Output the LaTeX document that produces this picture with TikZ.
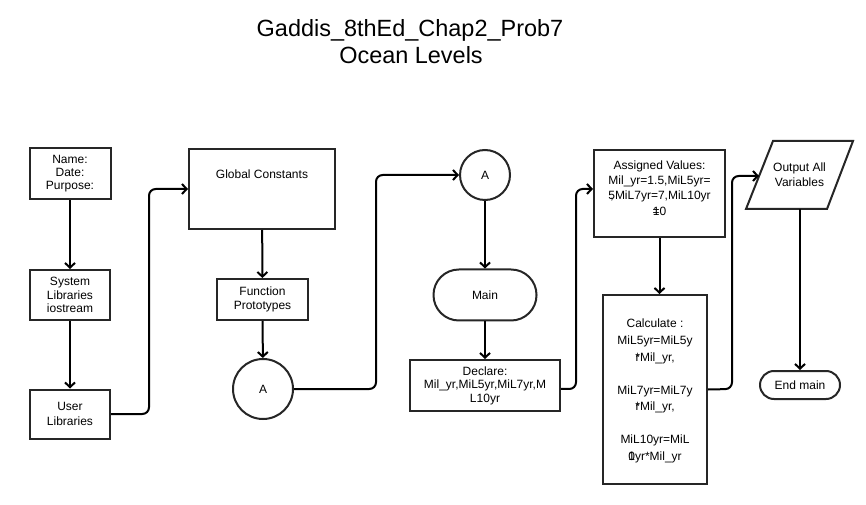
\documentclass[tikz,border=0pt]{standalone}
\usepackage{fontspec}
\setmainfont{Liberation Sans}
\usetikzlibrary{arrows.meta}
\begin{document}
\begin{tikzpicture}[x=0.75pt,y=-0.75pt,
  every node/.style={font=\fontsize{9}{11}\selectfont, align=center, inner sep=0pt},
  box/.style={draw=black!85, line width=1.5pt, fill=white},
  term/.style={box, rounded corners=#1},
  conn/.style={line width=1.5pt, rounded corners=5pt,
    -{Straight Barb[length=3.5pt,width=7.5pt,line width=1.5pt]}}]
\useasboundingbox (0,0) rectangle (866,505);

% title
\node[font=\fontsize{17.6}{20}\selectfont, anchor=base] (title1) at (410,37) {Gaddis\_8thEd\_Chap2\_Prob7};
\node[font=\fontsize{17.6}{20}\selectfont, anchor=base] (title2) at (411,64) {Ocean Levels};

% left column
\node[box, minimum width=60.75pt, minimum height=38.25pt, font=\fontsize{9}{9.8}\selectfont] (name) at (70,174) {Name:\\Date:\\Purpose:};
\node[box, minimum width=60pt, minimum height=37.5pt, font=\fontsize{9}{10.3}\selectfont] (syslib) at (70,295) {System\\Libraries\\iostream};
\node[box, minimum width=60pt, minimum height=36.75pt] (userlib) at (70,414) {User\\Libraries};

% second column
\node[box, minimum width=109.5pt, minimum height=60pt,
  label={[anchor=center, yshift=-19.5pt, font=\fontsize{9}{11}\selectfont]north:Global Constants}] (global) at (262,189) {};
\node[box, minimum width=68.25pt, minimum height=30.75pt] (proto) at (262.5,299.5) {Function\\Prototypes};
\node[box, circle, minimum size=45pt] (conA) at (263,389) {A};

% third column
\node[box, circle, minimum size=37.5pt] (conB) at (485,175) {A};
\node[term=19pt, minimum width=77.25pt, minimum height=38.25pt] (main) at (485,295) {Main};
\node[box, minimum width=112.5pt, minimum height=38.25pt, font=\fontsize{9}{10.2}\selectfont] (declare) at (485,385.5) {Declare:\\Mil\_yr,MiL5yr,MiL7yr,M\\L10yr};

% fourth column
\node[box, minimum width=98.25pt, minimum height=65.25pt] (assign) at (659.5,193.5) {};
\node[font=\fontsize{9}{11.5}\selectfont] (assigntxt) at (659.5,188) {Assigned Values:\\Mil\_yr=1.5,MiL5yr=\\\makebox[0pt][l]{\,,}5MiL7yr=7,MiL10yr\\\ooalign{\hfil=\hfil\cr\hfil1\hfil}0};
\node[box, minimum width=78pt, minimum height=141.75pt] (calc) at (655,389.5) {};
\node[font=\fontsize{9}{12.4}\selectfont] (calctxt) at (655,391) {Calculate :\\MiL5yr=MiL5y\\\ooalign{\hfil r\hfil\cr\hfil*\hfil}Mil\_yr,\\[12.4pt]MiL7yr=MiL7y\\\ooalign{\hfil r\hfil\cr\hfil*\hfil}Mil\_yr,\\[12.4pt]MiL10yr=MiL\\\ooalign{\hfil1\hfil\cr\hfil0\hfil}yr*Mil\_yr};

% fifth column
\draw[line width=1.5pt, draw=black!85, fill=white] (773,141) -- (853,141) -- (827,209) -- (746,209) -- cycle;
\node (output) at (799.5,175) {Output All\\Variables};
\coordinate (outin) at (759,176);
\coordinate (outbot) at (800,209);
\node[term=10.5pt, minimum width=60pt, minimum height=21pt] (endmain) at (800,385) {End main};

% connectors
\draw[conn] (name) -- (syslib);
\draw[conn] (syslib) -- (userlib);
\draw[conn] (userlib.east) -- (149,414) -- (149,189) -- (global.west);
\draw[conn] (global) -- (proto);
\draw[conn] (proto) -- (conA);
\draw[conn] (conA.east) -- (376,389) -- (376,175) -- (conB.west);
\draw[conn] (conB) -- (main);
\draw[conn] (main) -- (declare);
\draw[conn] ([yshift=-2.6pt]declare.east) -- (576,389) -- (576,189) -- ([yshift=3.4pt]assign.west);
\draw[conn] (assign.south) -- (assign.south |- calc.north);
\draw[conn] (calc.east) -- (732,389) -- (732,176) -- (outin);
\draw[conn] (outbot) -- (endmain.north);
\end{tikzpicture}
\end{document}
